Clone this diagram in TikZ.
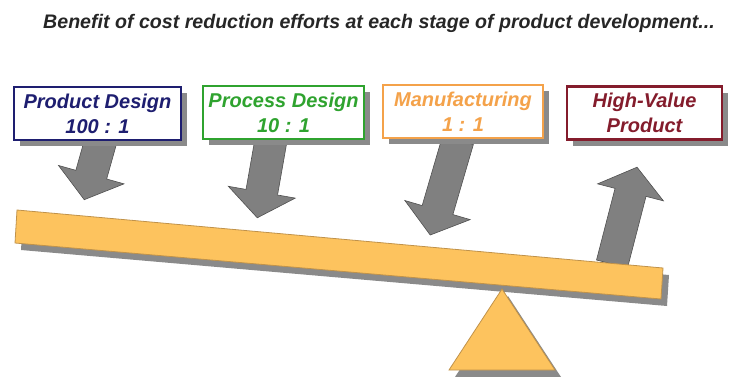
\documentclass[tikz,border=0pt]{standalone}
\usepackage{fontspec}
\setmainfont{Liberation Sans}
\usetikzlibrary{shadows}

\definecolor{leverfill}{HTML}{FDC35E}
\definecolor{leveredge}{HTML}{C0924A}
\definecolor{arrowgray}{HTML}{808080}
\definecolor{arrowedge}{HTML}{505050}
\definecolor{shadowgray}{HTML}{8A8A8A}
\definecolor{pdblue}{HTML}{1E1E70}
\definecolor{psgreen}{HTML}{2FA32F}
\definecolor{mforange}{HTML}{F4A24A}
\definecolor{hvred}{HTML}{841C2C}

\tikzset{
  stagebox/.style={draw=#1, text=#1, fill=white, line width=2.5pt,
    minimum height=53pt, align=center, inner sep=0pt,
    font=\fontsize{20}{25}\selectfont\bfseries\itshape,
    general shadow={fill=shadowgray, shadow xshift=6pt, shadow yshift=-6pt}},
  arrowbody/.style={fill=arrowgray, draw=arrowedge, line width=0.6pt},
  lever/.style={fill=leverfill, draw=leveredge, line width=0.8pt,
    general shadow={fill=shadowgray, shadow xshift=6pt, shadow yshift=-7pt}}
}

% block arrow: base centre, angle, length
\newcommand{\bigarrow}[3]{%
  \begin{scope}[shift={#1}, rotate=#2]
    \draw[arrowbody] (-16,0) -- (16,0) -- (16,#3-26) -- (34,#3-26)
      -- (0,#3) -- (-34,#3-26) -- (-16,#3-26) -- cycle;
  \end{scope}}

\begin{document}
\begin{tikzpicture}[x=1pt, y=-1pt]
  \useasboundingbox (0,0) rectangle (733,376);

  \node[anchor=base, text=black!85, font=\fontsize{19.6}{23}\selectfont\bfseries\itshape]
    (title) at (379,28) {Benefit of cost reduction efforts at each stage of product development...};

  % weights pushing down, value going up
  \bigarrow{(101,140)}{-15.7}{62}
  \bigarrow{(271,140)}{-10}{79}
  \bigarrow{(458,140)}{-16.3}{99}
  \bigarrow{(612,264)}{165.5}{100}

  % the see-saw
  \path[lever] (17,210) -- (663,268) -- (661,299) -- (15,243) -- cycle;
  \path[lever] (502,289) -- (555,370) -- (449,370) -- cycle;

  \node[stagebox=pdblue, minimum width=167pt] (pd) at (97.5,113.5) {Product Design\\100 : 1};
  \node[stagebox=psgreen, minimum width=161pt] (ps) at (283.5,112.5) {Process Design\\10 : 1};
  \node[stagebox=mforange, minimum width=160pt] (mf) at (463,111.5) {Manufacturing\\1 : 1};
  \node[stagebox=hvred, minimum width=155pt] (hv) at (644.5,113) {High-Value\\Product};
\end{tikzpicture}
\end{document}
